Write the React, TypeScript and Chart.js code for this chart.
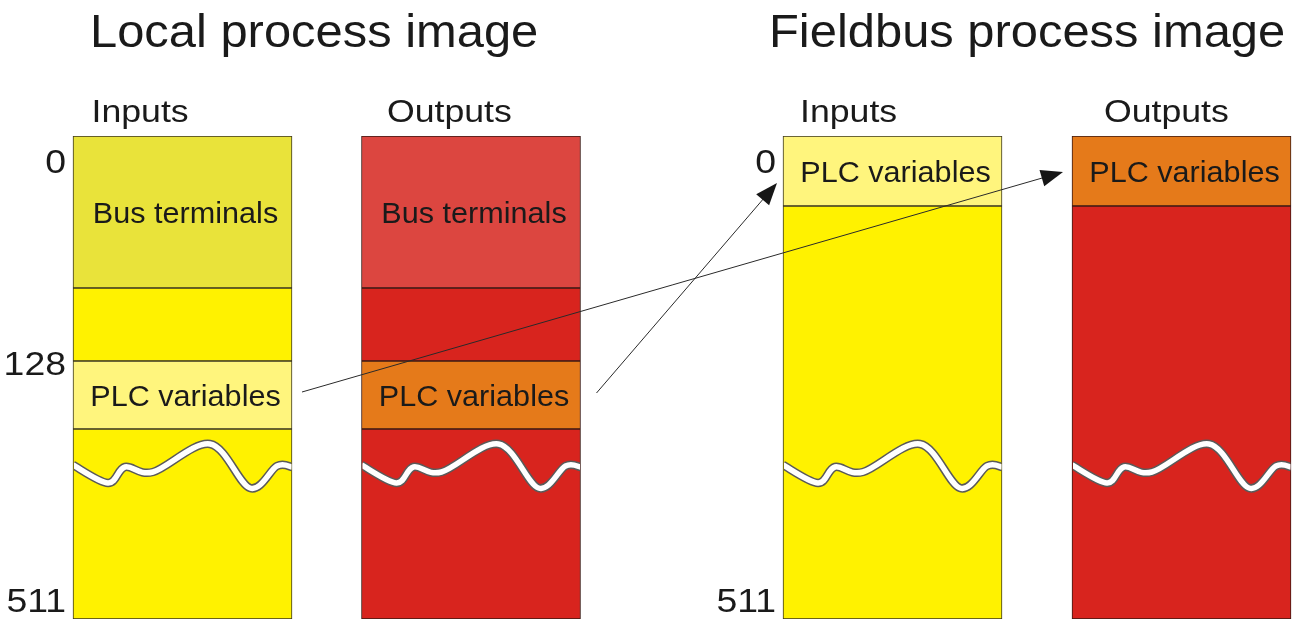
import React, { useEffect, useRef } from "react";
import { Chart, registerables } from "chart.js";

Chart.register(...registerables);

// ---------------- data ----------------
const groupTitles = ["Local process image", "Fieldbus process image"];
const columnNames = ["Inputs", "Outputs", "Inputs", "Outputs"];
const columnDirection = ["in", "out", "in", "out"];

// memory areas of each process image (schematic rows: 0 = start of image, 483 = end of image)
const areaColumn = [0, 0, 0, 0, 1, 1, 1, 1, 2, 2, 3, 3];
const areaKind = ["bus", "free", "plc", "free", "bus", "free", "plc", "free", "plc", "free", "plc", "free"];
const areaLabels = ["Bus terminals", "", "PLC variables", "", "Bus terminals", "", "PLC variables", "", "PLC variables", "", "PLC variables", ""];
const areaStart = [0, 152, 225, 293, 0, 152, 225, 293, 0, 70, 0, 70];
const areaEnd = [152, 225, 293, 483, 152, 225, 293, 483, 70, 483, 70, 483];
const imageEnd = 483;

// byte address labels
const addressLabels = ["0", "128", "511", "0", "511"];
const addressColumn = [0, 0, 0, 2, 2];
const addressRow = [0, 225, 483, 0, 483];

// mapping arrows (area index -> area index)
const mapFrom = [2, 6];
const mapTo = [10, 8];

// discontinuity (wavy break) row
const breakRow = 329;

// ---------------- layout & style ----------------
const LAYOUT = {
  width: 1298,
  height: 621,
  padTop: 136,
  padBottom: 2,
  columnX: [182.5, 471, 892.5, 1181.5],
  columnWidth: 219,
  titleX: [90, 769],
  titleBaseline: 47,
  headerX: [91.5, 387, 800, 1104],
  headerBaseline: 122,
  tickGap: 7,
  tickBaselineDy: [37, 14, -7.5, 37, -7.5],
  arrowStart: [[10, -3], [16, -2]],
  arrowEnd: [[-9, 1], [-6, 12]],
  waveXs: [0, 35, 52, 80, 137, 177, 204, 219],
  waveDy: [0, 18, 2, 7, -21, 23, 1, 2],
};

const COLORS: Record<string, Record<string, string>> = {
  in: { bus: "#E9E33A", free: "#FFF200", plc: "#FFF57D" },
  out: { bus: "#DC4640", free: "#D8241E", plc: "#E57A1A" },
};
const BORDER = { in: "#3a3520", out: "#3a1a14" } as Record<string, string>;
const FONT = "'Liberation Sans', Arial, Helvetica, sans-serif";
const TEXT = "#1a1a1a";

function drawText(ctx: CanvasRenderingContext2D, text: string, x: number, y: number, size: number, align: CanvasTextAlign, sx: number) {
  ctx.save();
  ctx.font = `${size}px ${FONT}`;
  ctx.fillStyle = TEXT;
  ctx.textAlign = align;
  ctx.textBaseline = "alphabetic";
  ctx.translate(x, y);
  ctx.scale(sx, 1);
  ctx.fillText(text, 0, 0);
  ctx.restore();
}

function smoothPath(ctx: CanvasRenderingContext2D, pts: number[][]) {
  ctx.moveTo(pts[0][0], pts[0][1]);
  for (let i = 0; i < pts.length - 1; i++) {
    const p0 = pts[i - 1] || pts[i];
    const p1 = pts[i];
    const p2 = pts[i + 1];
    const p3 = pts[i + 2] || p2;
    ctx.bezierCurveTo(
      p1[0] + (p2[0] - p0[0]) / 6, p1[1] + (p2[1] - p0[1]) / 6,
      p2[0] - (p3[0] - p1[0]) / 6, p2[1] - (p3[1] - p1[1]) / 6,
      p2[0], p2[1]
    );
  }
}

function drawArrow(ctx: CanvasRenderingContext2D, x1: number, y1: number, x2: number, y2: number) {
  const ang = Math.atan2(y2 - y1, x2 - x1);
  const L = 22;
  const W = 8.5;
  const bx = x2 - L * Math.cos(ang);
  const by = y2 - L * Math.sin(ang);
  ctx.save();
  ctx.strokeStyle = "#2a2a2a";
  ctx.lineWidth = 1;
  ctx.beginPath();
  ctx.moveTo(x1, y1);
  ctx.lineTo(bx + 2 * Math.cos(ang), by + 2 * Math.sin(ang));
  ctx.stroke();
  ctx.fillStyle = "#161616";
  ctx.beginPath();
  ctx.moveTo(x2, y2);
  ctx.lineTo(bx + W * Math.sin(ang), by - W * Math.cos(ang));
  ctx.lineTo(bx - W * Math.sin(ang), by + W * Math.cos(ang));
  ctx.closePath();
  ctx.fill();
  ctx.restore();
}

const diagramPlugin = {
  id: "processImageDiagram",
  afterDraw(chart: any) {
    const ctx: CanvasRenderingContext2D = chart.ctx;
    const xs = chart.scales.x;
    const ys = chart.scales.y;
    const half = LAYOUT.columnWidth / 2;
    const colLeft = (c: number) => xs.getPixelForValue(LAYOUT.columnX[c]) - half;
    const colRight = (c: number) => xs.getPixelForValue(LAYOUT.columnX[c]) + half;
    const colCenter = (c: number) => xs.getPixelForValue(LAYOUT.columnX[c]);

    // wavy breaks
    columnNames.forEach((_, c) => {
      const left = colLeft(c);
      const top = ys.getPixelForValue(0);
      const bottom = ys.getPixelForValue(imageEnd);
      const base = ys.getPixelForValue(breakRow);
      const pts = LAYOUT.waveXs.map((dx, i) => [left + dx, base + LAYOUT.waveDy[i]]);
      ctx.save();
      ctx.beginPath();
      ctx.rect(left + 1, top, LAYOUT.columnWidth - 1.5, bottom - top);
      ctx.clip();
      ctx.lineCap = "butt";
      ctx.lineJoin = "round";
      ctx.beginPath();
      smoothPath(ctx, pts);
      ctx.strokeStyle = "#5a5a5a";
      ctx.lineWidth = 8.5;
      ctx.stroke();
      ctx.beginPath();
      smoothPath(ctx, pts);
      ctx.strokeStyle = "#ffffff";
      ctx.lineWidth = 5.5;
      ctx.stroke();
      ctx.restore();
    });

    // labels inside areas
    areaLabels.forEach((label, i) => {
      if (!label) return;
      const c = areaColumn[i];
      const mid = (ys.getPixelForValue(areaStart[i]) + ys.getPixelForValue(areaEnd[i])) / 2;
      drawText(ctx, label, colCenter(c) + 3, mid + 11, 30, "center", 1.02);
    });

    // arrows
    mapFrom.forEach((from, k) => {
      const to = mapTo[k];
      const fromMid = (ys.getPixelForValue(areaStart[from]) + ys.getPixelForValue(areaEnd[from])) / 2;
      const toMid = (ys.getPixelForValue(areaStart[to]) + ys.getPixelForValue(areaEnd[to])) / 2;
      const x1 = colRight(areaColumn[from]) + LAYOUT.arrowStart[k][0];
      const y1 = fromMid + LAYOUT.arrowStart[k][1];
      const x2 = colLeft(areaColumn[to]) + LAYOUT.arrowEnd[k][0];
      const y2 = toMid + LAYOUT.arrowEnd[k][1];
      drawArrow(ctx, x1, y1, x2, y2);
    });

    // group titles
    groupTitles.forEach((t, g) => {
      drawText(ctx, t, xs.getPixelForValue(LAYOUT.titleX[g]), LAYOUT.titleBaseline, 47, "left", 1.04);
    });

    // column headers
    columnNames.forEach((n, c) => {
      drawText(ctx, n, xs.getPixelForValue(LAYOUT.headerX[c]), LAYOUT.headerBaseline, 31, "left", 1.15);
    });

    // address labels
    addressLabels.forEach((a, i) => {
      const c = addressColumn[i];
      const y = ys.getPixelForValue(addressRow[i]) + LAYOUT.tickBaselineDy[i];
      drawText(ctx, a, colLeft(c) - LAYOUT.tickGap, y, 34, "right", 1.1);
    });
  },
};

export default function App() {
  const ref = useRef<HTMLCanvasElement>(null);
  useEffect(() => {
    const canvas = ref.current;
    if (!canvas) return;
    const chart = new Chart(canvas, {
      type: "bar",
      data: {
        datasets: [
          {
            data: areaStart.map((s, i) => ({ x: LAYOUT.columnX[areaColumn[i]], y: [s, areaEnd[i]] })) as any,
            backgroundColor: areaKind.map((k, i) => COLORS[columnDirection[areaColumn[i]]][k]),
            borderColor: areaKind.map((_, i) => BORDER[columnDirection[areaColumn[i]]]),
            borderWidth: 1,
            borderSkipped: false,
            barThickness: LAYOUT.columnWidth,
            grouped: false,
          } as any,
        ],
      },
      options: {
        animation: false,
        responsive: false,
        maintainAspectRatio: false,
        devicePixelRatio: 1,
        layout: { padding: { top: LAYOUT.padTop, bottom: LAYOUT.padBottom, left: 0, right: 0 } },
        scales: {
          x: { type: "linear", min: 0, max: LAYOUT.width, display: false, offset: false },
          y: { type: "linear", min: 0, max: imageEnd, reverse: true, display: false },
        },
        plugins: {
          legend: { display: false },
          title: { display: false },
          tooltip: { enabled: false },
        },
      } as any,
      plugins: [diagramPlugin],
    });
    return () => chart.destroy();
  }, []);
  return (
    <div style={{ position: "fixed", left: 0, top: 0, width: LAYOUT.width, height: LAYOUT.height, background: "#ffffff" }}>
      <canvas ref={ref} width={LAYOUT.width} height={LAYOUT.height} style={{ display: "block" }} />
    </div>
  );
}
